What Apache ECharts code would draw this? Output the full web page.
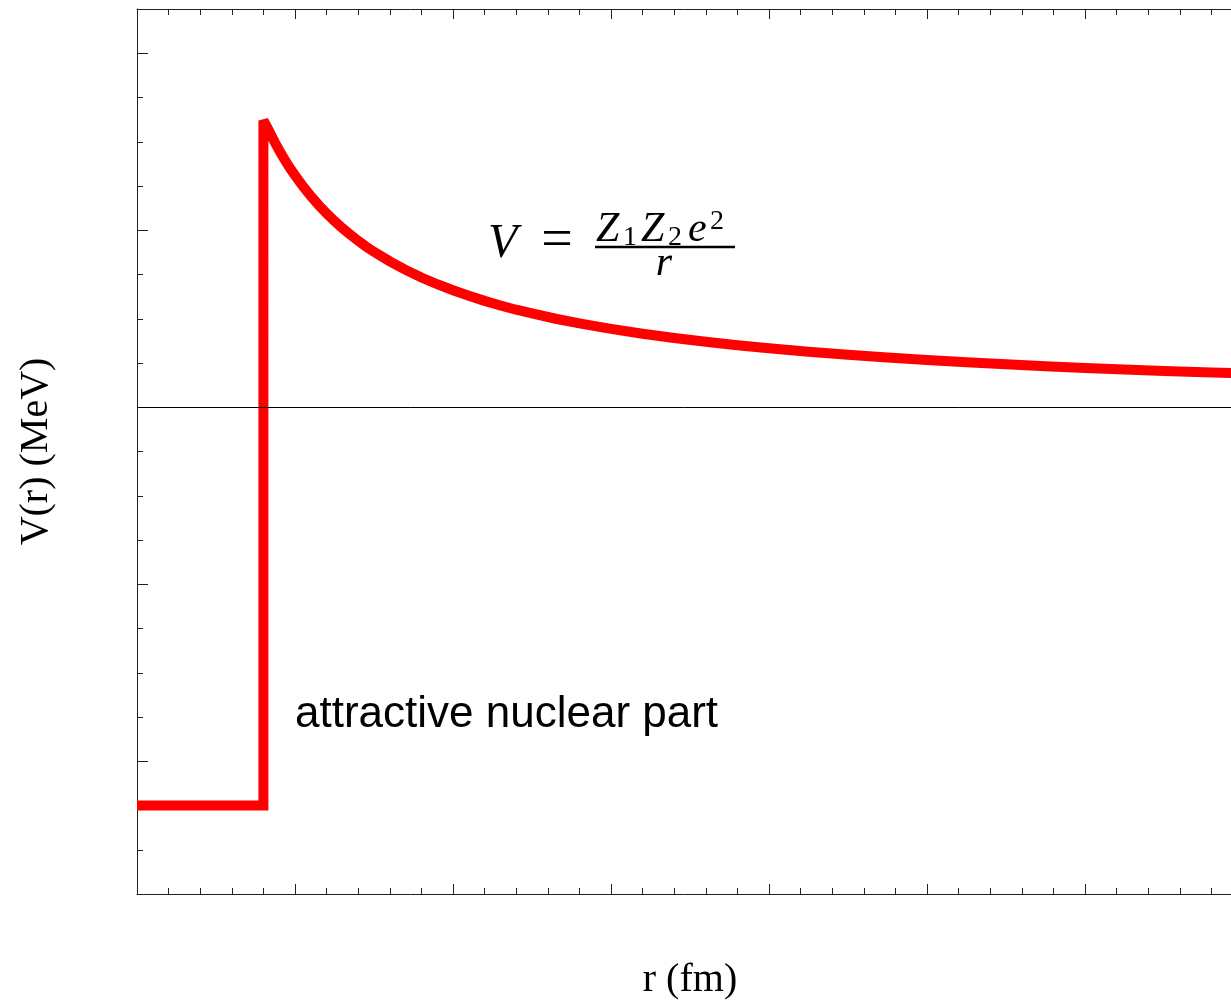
<!DOCTYPE html>
<html>
<head>
<meta charset="utf-8">
<title>Nuclear plus Coulomb potential</title>
<script src="https://cdn.jsdelivr.net/npm/echarts@6/dist/echarts.min.js"></script>
<style>
  html, body { margin: 0; padding: 0; background: #fff; }
  #chart { width: 1231px; height: 1000px; }
</style>
</head>
<body>
<div id="chart"></div>
<script>
// Potential V(r): square nuclear well, then the Coulomb tail
const radius = [0, 0.8, 0.8, 0.825, 0.85, 0.875, 0.9, 0.925, 0.95, 0.975, 1.0, 1.05, 1.1, 1.15, 1.2,
                1.25, 1.3, 1.35, 1.4, 1.45, 1.5, 1.6, 1.7, 1.8, 1.9, 2.0, 2.1, 2.2, 2.3, 2.4, 2.5,
                2.65, 2.8, 3.0, 3.2, 3.4, 3.6, 3.8, 4.0, 4.25, 4.5, 4.75, 5.0, 5.25, 5.5, 5.75,
                6.0, 6.25, 6.5, 6.75, 7.0];
const potential = [-2.25, -2.25, 1.62, 1.58, 1.535, 1.492, 1.452, 1.413, 1.377, 1.342, 1.31, 1.249, 1.193, 1.142, 1.095,
                   1.052, 1.012, 0.975, 0.94, 0.908, 0.878, 0.824, 0.776, 0.733, 0.695, 0.661, 0.63, 0.601, 0.575, 0.551, 0.53,
                   0.5, 0.474, 0.443, 0.415, 0.391, 0.37, 0.35, 0.333, 0.314, 0.296, 0.281, 0.267, 0.254, 0.243, 0.232,
                   0.222, 0.213, 0.205, 0.198, 0.191];

// Axis ranges and tick spacing
const rRange = [0, 7];
const vRange = [-2.75, 2.25];
const rMajorStep = 1;
const vMinorStep = 0.25;
const vMajorTicks = [-2, -1, 0, 1, 2];

const xLabel = 'r (fm)';
const yLabel = 'V(r) (MeV)';
const wellLabel = 'attractive nuclear part';

const axisColor = '#222';
const serif = '"Liberation Serif", "Times New Roman", serif';

const points = radius.map((r, i) => [r, potential[i]]);

function xAxisDef(pos, withName) {
  return {
    type: 'value', position: pos, min: rRange[0], max: rRange[1], interval: rMajorStep,
    axisLine: { show: true, onZero: false, lineStyle: { color: axisColor, width: 1 } },
    axisTick: { show: true, inside: true, length: 10, lineStyle: { color: axisColor, width: 1 } },
    minorTick: { show: true, splitNumber: 5, length: 6, lineStyle: { color: axisColor, width: 1 } },
    axisLabel: { show: false }, splitLine: { show: false }, minorSplitLine: { show: false },
    name: withName ? xLabel : '', nameLocation: 'middle', nameGap: 66,
    nameTextStyle: { fontFamily: serif, fontSize: 40, color: '#000' }
  };
}

const chart = echarts.init(document.getElementById('chart'), null, { renderer: 'canvas' });
chart.setOption({
  animation: false,
  backgroundColor: '#fff',
  grid: { left: 137, top: 9, width: 1106, height: 885, show: false, outerBoundsMode: 'none', containLabel: false },
  xAxis: [xAxisDef('bottom', true), xAxisDef('top', false)],
  yAxis: [
    {
      type: 'value', position: 'left', min: vRange[0], max: vRange[1], interval: vMinorStep,
      axisLine: { show: true, onZero: false, lineStyle: { color: axisColor, width: 1 } },
      axisTick: { show: true, inside: true, length: 6, lineStyle: { color: axisColor, width: 1 } },
      axisLabel: { show: false }, splitLine: { show: false },
      name: yLabel, nameLocation: 'middle', nameGap: 81,
      nameTextStyle: { fontFamily: serif, fontSize: 40, color: '#000' }
    },
    {
      // longer marks at the whole-unit values
      type: 'value', position: 'left', min: vRange[0], max: vRange[1], interval: vMinorStep,
      axisLine: { show: false },
      axisTick: { show: true, inside: true, length: 11, customValues: vMajorTicks,
                  lineStyle: { color: axisColor, width: 1 } },
      axisLabel: { show: false }, splitLine: { show: false }
    }
  ],
  series: [{
    type: 'line',
    xAxisIndex: 0, yAxisIndex: 0,
    data: points,
    showSymbol: false,
    symbol: 'none',
    clip: true,
    lineStyle: { color: '#ff0000', width: 10, join: 'miter', miterLimit: 2, cap: 'butt' },
    markLine: {
      silent: true, symbol: 'none', label: { show: false },
      lineStyle: { color: '#000', width: 1, type: 'solid' },
      data: [{ yAxis: 0 }]
    }
  }],
  graphic: [
    { type: 'text', x: 295, y: 715,
      style: { text: wellLabel, font: '44px "Liberation Sans", Arial, sans-serif', fill: '#000',
               textAlign: 'left', textVerticalAlign: 'middle' } },
    // V = Z1 Z2 e^2 / r
    { type: 'group', children: [
      { type: 'text', x: 488, y: 244, style: { text: 'V', font: 'italic 48px ' + serif, fill: '#000', textAlign: 'left', textVerticalAlign: 'middle' } },
      { type: 'text', x: 557, y: 242, style: { text: '=', font: '56px ' + serif, fill: '#000', textAlign: 'center', textVerticalAlign: 'middle' } },
      { type: 'text', x: 596, y: 230, style: { text: 'Z', font: 'italic 42px ' + serif, fill: '#000', textAlign: 'left', textVerticalAlign: 'middle' } },
      { type: 'text', x: 623, y: 238, style: { text: '1', font: '28px ' + serif, fill: '#000', textAlign: 'left', textVerticalAlign: 'middle' } },
      { type: 'text', x: 641, y: 230, style: { text: 'Z', font: 'italic 42px ' + serif, fill: '#000', textAlign: 'left', textVerticalAlign: 'middle' } },
      { type: 'text', x: 668, y: 238, style: { text: '2', font: '28px ' + serif, fill: '#000', textAlign: 'left', textVerticalAlign: 'middle' } },
      { type: 'text', x: 688, y: 230, style: { text: 'e', font: 'italic 42px ' + serif, fill: '#000', textAlign: 'left', textVerticalAlign: 'middle' } },
      { type: 'text', x: 710, y: 222, style: { text: '2', font: '28px ' + serif, fill: '#000', textAlign: 'left', textVerticalAlign: 'middle' } },
      { type: 'line', shape: { x1: 595, y1: 247, x2: 735, y2: 247 }, style: { stroke: '#000', lineWidth: 2.5 } },
      { type: 'text', x: 664, y: 264, style: { text: 'r', font: 'italic 42px ' + serif, fill: '#000', textAlign: 'center', textVerticalAlign: 'middle' } }
    ] }
  ]
});
</script>
</body>
</html>
